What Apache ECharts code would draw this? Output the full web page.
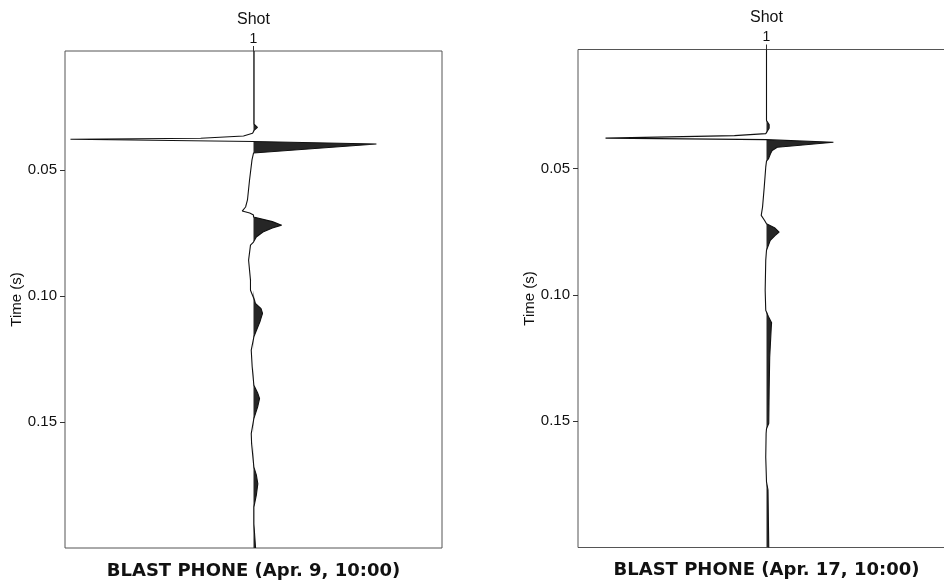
<!DOCTYPE html>
<html><head><meta charset="utf-8">
<script src="https://cdn.jsdelivr.net/npm/echarts@6/dist/echarts.min.js"></script>
<style>html,body{margin:0;padding:0;background:#fff}#c{width:944px;height:580px}</style>
</head><body><div id="c"></div>
<script>
// ---- data ----
const timeTicks = [0.05, 0.10, 0.15];
const shotLabels = ['1'];
const panelTitles = ['BLAST PHONE (Apr. 9, 10:00)', 'BLAST PHONE (Apr. 17, 10:00)'];

// Apr. 9 trace: time (s) and normalised amplitude
const apr9Time = [0.0028, 0.0309, 0.0318, 0.0331, 0.0343, 0.0354, 0.0365, 0.0374, 0.0378, 0.0387,
  0.0397, 0.0433, 0.0436, 0.0460, 0.0540, 0.0619, 0.0647, 0.0663, 0.0671, 0.0679,
  0.0687, 0.0705, 0.0719, 0.0730, 0.0746, 0.0766, 0.0786, 0.0798, 0.0858, 0.0937,
  0.0977, 0.1016, 0.1029, 0.1050, 0.1069, 0.1100, 0.1162, 0.1215, 0.1281, 0.1354,
  0.1385, 0.1407, 0.1440, 0.1486, 0.1546, 0.1586, 0.1679, 0.1710, 0.1745, 0.1790,
  0.1838, 0.1904, 0.2000];
const apr9Amp = [0.003, 0.003, 0.003, 0.021, 0.003, -0.005, -0.053, -0.28, -0.971, 0.0,
  0.652, 0.0, 0.0, -0.008, -0.021, -0.032, -0.042, -0.060, -0.020, 0.0,
  0.0, 0.100, 0.149, 0.100, 0.050, 0.015, 0.0, -0.016, -0.026, -0.016,
  -0.016, 0.005, 0.010, 0.040, 0.048, 0.035, 0.002, -0.012, -0.007, 0.002,
  0.022, 0.032, 0.022, 0.002, -0.012, -0.010, 0.002, 0.015, 0.023, 0.015,
  0.002, 0.002, 0.011];

// Apr. 17 trace
const apr17Time = [0.0028, 0.0309, 0.0325, 0.0340, 0.0352, 0.0361, 0.0369, 0.0379, 0.0385, 0.0395,
  0.0408, 0.0415, 0.0428, 0.0441, 0.0460, 0.0470, 0.0494, 0.0573, 0.0652, 0.0685,
  0.0705, 0.0718, 0.0735, 0.0751, 0.0765, 0.0784, 0.0823, 0.0863, 0.0982, 0.1061,
  0.1085, 0.1110, 0.1132, 0.1247, 0.1377, 0.1508, 0.1530, 0.1548, 0.1643, 0.1740,
  0.1773, 0.1892, 0.2000];
const apr17Amp = [0.0, 0.0, 0.014, 0.014, 0.004, -0.004, -0.17, -0.854, 0.0, 0.355,
  0.163, 0.057, 0.030, 0.021, 0.011, 0.0, -0.004, -0.012, -0.021, -0.028,
  -0.010, 0.0, 0.045, 0.067, 0.045, 0.020, 0.0, -0.004, -0.007, -0.004,
  0.010, 0.027, 0.025, 0.017, 0.014, 0.012, 0.0, -0.002, -0.004, 0.0,
  0.008, 0.010, 0.012];

// ---- chart ----
const panels = [
  { times: apr9Time, amps: apr9Amp, left: 65, top: 51, height: 497 },
  { times: apr17Time, amps: apr17Amp, left: 578, top: 49.5, height: 498 }
];
const FONT = 'Liberation Sans, Arial, Helvetica, sans-serif';

function fillRenderer(times, amps) {
  return function (params, api) {
    const pts = [api.coord([0, times[0]])];
    for (let i = 0; i < times.length; i++) pts.push(api.coord([Math.max(0, amps[i]), times[i]]));
    pts.push(api.coord([0, times[times.length - 1]]));
    return { type: 'polygon', shape: { points: pts }, style: { fill: '#262626' } };
  };
}

const grid = [], xAxis = [], yAxis = [], series = [];
panels.forEach((p, i) => {
  grid.push({ left: p.left, top: p.top, width: 377, height: p.height, show: true,
    outerBoundsMode: 'none', containLabel: false,
    borderColor: '#555', borderWidth: 1, backgroundColor: 'transparent' });
  xAxis.push({ type: 'value', gridIndex: i, position: 'top', min: -1, max: 1,
    axisLine: { show: false, onZero: false }, splitLine: { show: false },
    axisTick: { show: true, customValues: [0], length: 5, lineStyle: { color: '#333' } },
    axisLabel: { show: true, customValues: [0], formatter: () => shotLabels[0], margin: 5,
      fontFamily: FONT, fontSize: 14, color: '#111' },
    name: 'Shot', nameLocation: 'middle', nameGap: 22,
    nameTextStyle: { fontFamily: FONT, fontSize: 16, color: '#111' } });
  xAxis.push({ type: 'value', gridIndex: i, position: 'bottom', min: -1, max: 1,
    axisLine: { show: false, onZero: false }, axisTick: { show: false }, axisLabel: { show: false },
    splitLine: { show: false },
    name: panelTitles[i], nameLocation: 'middle', nameGap: 14,
    nameTextStyle: { fontFamily: 'DejaVu Sans', fontSize: 18, fontWeight: 'bold', color: '#111',
      verticalAlign: 'top' } });
  yAxis.push({ type: 'value', gridIndex: i, inverse: true, min: 0.0028, max: 0.2,
    axisLine: { show: false, onZero: false }, splitLine: { show: false },
    axisTick: { show: true, customValues: timeTicks, length: 5, lineStyle: { color: '#333' } },
    axisLabel: { show: true, customValues: timeTicks, formatter: v => v.toFixed(2),
      fontFamily: FONT, fontSize: 15, color: '#111', margin: 8 },
    name: 'Time (s)', nameLocation: 'middle', nameGap: 40,
    nameTextStyle: { fontFamily: FONT, fontSize: 15, color: '#111' } });
  series.push({ type: 'custom', xAxisIndex: 2 * i, yAxisIndex: i, clip: true, silent: true,
    renderItem: fillRenderer(p.times, p.amps), data: [[0, p.times[0]]],
    encode: { x: 0, y: 1 }, z: 2 });
  series.push({ type: 'line', xAxisIndex: 2 * i, yAxisIndex: i, symbol: 'none', silent: true,
    data: p.times.map((t, k) => [p.amps[k], t]),
    lineStyle: { color: '#111', width: 1.1 }, z: 3 });
});

const chart = echarts.init(document.getElementById('c'), null, { renderer: 'canvas' });
chart.setOption({ animation: false, backgroundColor: '#fff', grid, xAxis, yAxis, series });
</script></body></html>
